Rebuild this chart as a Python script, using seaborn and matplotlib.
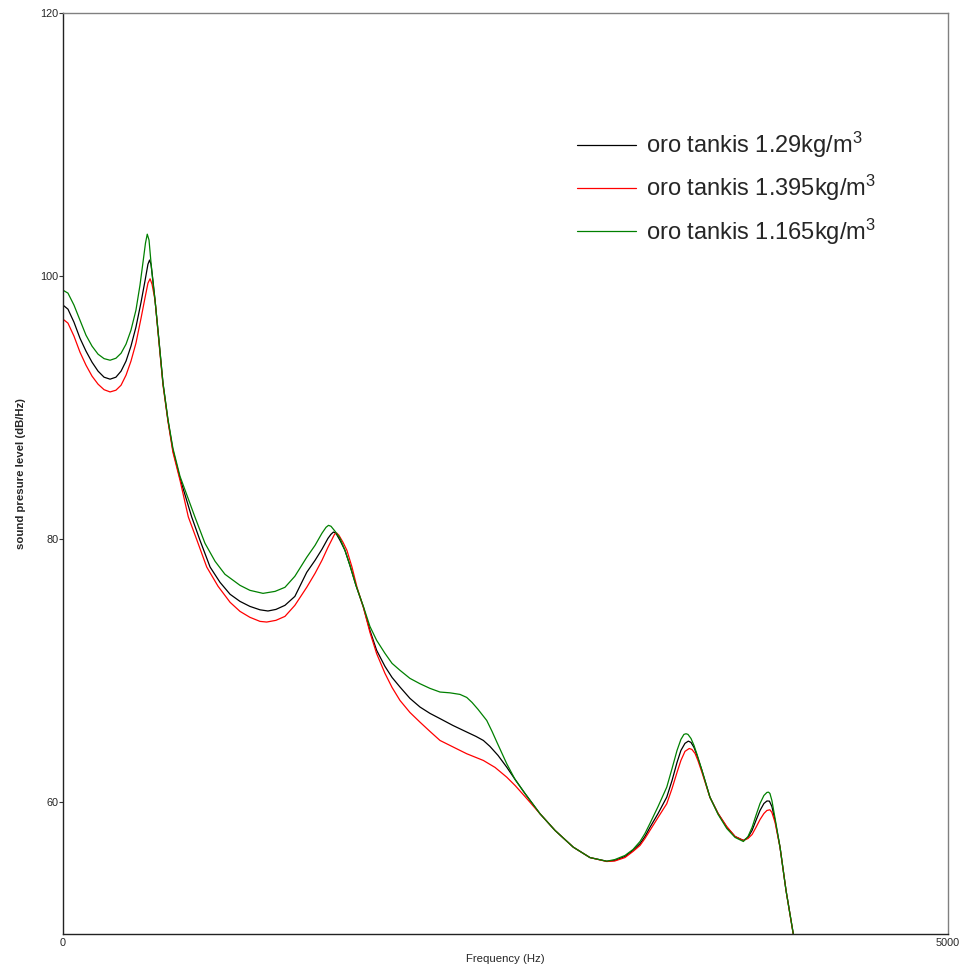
import matplotlib
matplotlib.use("Agg")
import matplotlib.pyplot as plt
import seaborn as sns
import pandas as pd

# ---- data ----
freq_black = [0, 28, 62, 96, 130, 164, 198, 232, 266, 299,
              328, 356, 384, 412, 441, 463, 480, 489, 497, 508,
              520, 542, 565, 593, 621, 661, 727, 774, 831, 887,
              944, 1000, 1056, 1113, 1158, 1203, 1254, 1310, 1377, 1424,
              1463, 1497, 1514, 1528, 1542, 1565, 1593, 1621, 1655, 1697,
              1734, 1772, 1819, 1859, 1904, 1960, 2017, 2073, 2130, 2203,
              2281, 2333, 2375, 2412, 2458, 2507, 2554, 2610, 2695, 2780,
              2883, 2977, 3072, 3118, 3175, 3220, 3260, 3288, 3316, 3362,
              3411, 3441, 3469, 3491, 3514, 3533, 3548, 3565, 3582, 3610,
              3655, 3701, 3750, 3797, 3844, 3870, 3893, 3915, 3938, 3960,
              3977, 3991, 4005, 4023, 4051, 4085, 4126, 4147]
spl_black = [97.80, 97.49, 96.50, 95.28, 94.30, 93.46, 92.78, 92.32, 92.17, 92.32,
             92.78, 93.54, 94.68, 96.12, 98.02, 99.62, 100.91, 101.22, 100.91, 99.70,
             98.17, 95.13, 91.86, 89.05, 86.77, 84.64, 81.70, 79.92, 77.89, 76.73,
             75.82, 75.28, 74.90, 74.64, 74.55, 74.67, 74.98, 75.66, 77.49, 78.40,
             79.24, 80.07, 80.38, 80.55, 80.46, 79.92, 79.16, 78.02, 76.50, 74.85,
             73.08, 71.56, 70.34, 69.50, 68.77, 67.91, 67.25, 66.77, 66.37, 65.85,
             65.35, 65.02, 64.71, 64.26, 63.57, 62.68, 61.75, 60.68, 59.14, 57.87,
             56.60, 55.81, 55.53, 55.59, 55.89, 56.35, 56.86, 57.41, 58.10, 59.16,
             60.40, 61.67, 63.04, 63.95, 64.49, 64.66, 64.56, 64.18, 63.57, 62.43,
             60.40, 59.16, 58.12, 57.41, 57.11, 57.34, 57.87, 58.63, 59.39, 59.92,
             60.11, 60.10, 59.69, 58.63, 56.60, 53.30, 50.01, 48.74]

freq_red = [0, 28, 62, 96, 130, 164, 198, 232, 266, 299,
            328, 356, 384, 412, 441, 463, 480, 492, 503, 520,
            542, 565, 593, 621, 661, 708, 757, 812, 876, 944,
            1000, 1056, 1113, 1151, 1203, 1254, 1310, 1377, 1424, 1463,
            1497, 1520, 1534, 1546, 1559, 1582, 1604, 1633, 1661, 1697,
            1734, 1772, 1819, 1859, 1904, 1960, 2017, 2073, 2130, 2224,
            2281, 2375, 2441, 2507, 2554, 2610, 2695, 2780, 2883, 2977,
            3072, 3118, 3175, 3220, 3260, 3288, 3316, 3362, 3411, 3441,
            3469, 3491, 3514, 3538, 3553, 3571, 3587, 3610, 3655, 3701,
            3750, 3797, 3844, 3870, 3893, 3915, 3938, 3960, 3977, 3994,
            4005, 4023, 4051, 4085, 4126, 4147]
spl_red = [96.73, 96.43, 95.44, 94.22, 93.23, 92.40, 91.79, 91.37, 91.20, 91.33,
           91.71, 92.47, 93.54, 94.90, 96.81, 98.33, 99.47, 99.80, 99.39, 98.17,
           94.98, 91.71, 88.97, 86.62, 84.49, 81.70, 79.92, 77.89, 76.43, 75.21,
           74.52, 74.07, 73.76, 73.71, 73.84, 74.14, 74.98, 76.35, 77.41, 78.40,
           79.39, 80.00, 80.38, 80.48, 80.30, 79.77, 79.16, 77.87, 76.35, 74.83,
           72.93, 71.31, 69.81, 68.74, 67.75, 66.84, 66.10, 65.40, 64.71, 64.08,
           63.70, 63.19, 62.66, 61.92, 61.29, 60.45, 59.14, 57.87, 56.60, 55.81,
           55.51, 55.55, 55.81, 56.27, 56.73, 57.26, 57.87, 58.86, 59.90, 61.06,
           62.28, 63.19, 63.88, 64.10, 64.03, 63.72, 63.19, 62.28, 60.38, 59.16,
           58.17, 57.41, 57.11, 57.26, 57.56, 58.10, 58.70, 59.16, 59.39, 59.44,
           59.24, 58.48, 56.58, 53.30, 49.96, 48.74]

freq_green = [0, 28, 62, 96, 130, 164, 198, 232, 266, 299,
              328, 356, 384, 412, 435, 452, 466, 476, 486, 497,
              508, 520, 542, 565, 593, 621, 661, 746, 802, 859,
              915, 1000, 1056, 1130, 1198, 1254, 1310, 1377, 1424, 1463,
              1486, 1500, 1514, 1537, 1565, 1593, 1621, 1655, 1697, 1734,
              1772, 1819, 1859, 1904, 1960, 2017, 2073, 2130, 2186, 2243,
              2281, 2311, 2345, 2394, 2424, 2452, 2507, 2554, 2610, 2695,
              2780, 2883, 2977, 3072, 3118, 3175, 3220, 3260, 3288, 3316,
              3362, 3411, 3441, 3469, 3491, 3508, 3520, 3531, 3548, 3565,
              3582, 3610, 3655, 3701, 3750, 3797, 3844, 3870, 3893, 3915,
              3938, 3960, 3977, 3986, 3994, 4005, 4023, 4051, 4085, 4126,
              4147]
spl_green = [98.93, 98.71, 97.80, 96.65, 95.51, 94.68, 94.07, 93.73, 93.61, 93.76,
             94.14, 94.83, 95.89, 97.41, 99.32, 101.06, 102.51, 103.19, 102.74, 101.06,
             99.54, 98.17, 95.13, 91.86, 89.12, 86.92, 84.79, 81.67, 79.70, 78.33,
             77.34, 76.50, 76.12, 75.89, 76.04, 76.35, 77.19, 78.63, 79.54, 80.46,
             80.91, 81.06, 80.99, 80.61, 80.07, 79.16, 78.02, 76.50, 74.90, 73.38,
             72.32, 71.33, 70.57, 70.04, 69.43, 69.02, 68.67, 68.39, 68.33, 68.21,
             67.98, 67.60, 67.07, 66.23, 65.40, 64.56, 62.94, 61.75, 60.68, 59.14,
             57.87, 56.60, 55.81, 55.53, 55.66, 55.97, 56.42, 57.03, 57.64, 58.40,
             59.69, 61.16, 62.58, 63.95, 64.79, 65.17, 65.22, 65.17, 64.86, 64.33,
             63.65, 62.43, 60.40, 59.09, 58.02, 57.34, 57.03, 57.41, 58.10, 59.01,
             59.92, 60.53, 60.76, 60.78, 60.68, 60.15, 58.78, 56.60, 53.30, 50.01,
             48.74]

labels = [r"oro tankis 1.29kg/m$^3$", r"oro tankis 1.395kg/m$^3$", r"oro tankis 1.165kg/m$^3$"]
colors = ["#000000", "#ff0000", "#008000"]
x_ticks = [0, 5000]
y_ticks = [60, 80, 100, 120]

# ---- style ----
sns.set_style("white")
plt.rcParams["font.family"] = ["Liberation Sans", "DejaVu Sans"]
plt.rcParams["mathtext.fontset"] = "custom"
plt.rcParams["mathtext.rm"] = "Liberation Sans"
plt.rcParams["mathtext.it"] = "Liberation Sans"
plt.rcParams["mathtext.bf"] = "Liberation Sans:bold"

fig = plt.figure(figsize=(9.66, 9.69), dpi=100)
ax = fig.add_axes([63 / 966, 1 - 934 / 969, 885 / 966, 921 / 969])

series = [(freq_black, spl_black), (freq_red, spl_red), (freq_green, spl_green)]
for (fx, fy), lab, col in zip(series, labels, colors):
    df = pd.DataFrame({"f": fx, "spl": fy})
    sns.lineplot(data=df, x="f", y="spl", color=col, lw=0.9, label=lab, ax=ax, sort=False)

ax.set_xlim(0, 5000)
ax.set_ylim(50, 120)
ax.set_xticks(x_ticks)
ax.set_yticks(y_ticks)
ax.set_xticklabels([str(t) for t in x_ticks], fontsize=7.8)
ax.set_yticklabels([str(t) for t in y_ticks], fontsize=7.8)
ax.tick_params(axis="y", left=True, length=3, width=0.8, pad=0.5, color="#333333")
ax.tick_params(axis="x", bottom=False, length=0, pad=3)

ax.set_xlabel("Frequency (Hz)", fontsize=8.2, labelpad=4)
ax.set_ylabel("sound presure level (dB/Hz)", fontsize=8.2, fontweight="bold", labelpad=10)

for s in ["left", "bottom"]:
    ax.spines[s].set_color("#222222")
    ax.spines[s].set_linewidth(1.0)
for s in ["top", "right"]:
    ax.spines[s].set_color("#808080")
    ax.spines[s].set_linewidth(1.0)

ax.legend(loc="upper left", bbox_to_anchor=(0.5808, 0.873), frameon=False, fontsize=17,
          handlelength=2.5, handletextpad=0.42, labelspacing=0.55, borderpad=0, borderaxespad=0)

fig.savefig("out.png", dpi=100)
